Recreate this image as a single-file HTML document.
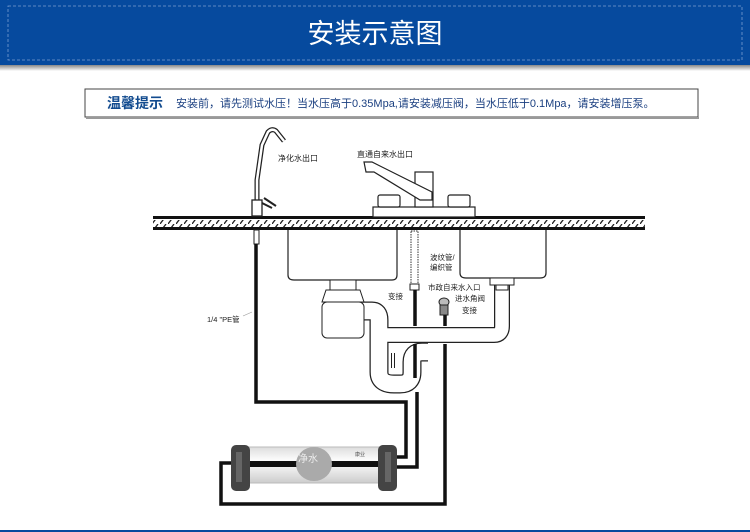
<!DOCTYPE html>
<html><head><meta charset="utf-8"><style>
body{margin:0;background:#fff;width:750px;height:532px;overflow:hidden;font-family:"Liberation Sans","Noto Sans CJK SC",sans-serif;}
</style></head><body>
<svg width="750" height="532" viewBox="0 0 750 532" xmlns="http://www.w3.org/2000/svg" style="display:block">
<defs>
<linearGradient id="sh" x1="0" y1="0" x2="0" y2="1"><stop offset="0" stop-color="#888"/><stop offset="1" stop-color="#fff"/></linearGradient>
<linearGradient id="cyl" x1="0" y1="0" x2="0" y2="1"><stop offset="0" stop-color="#ddd"/><stop offset="0.4" stop-color="#fff"/><stop offset="1" stop-color="#ccc"/></linearGradient>
<pattern id="hatch" width="8" height="8" patternUnits="userSpaceOnUse"><path d="M0 8 L6 0" stroke="#222" stroke-width="1.3"/></pattern>
</defs>
<!-- header -->
<rect x="0" y="0" width="750" height="65" fill="#064a9e"/>
<rect x="0" y="65" width="750" height="6" fill="url(#sh)"/>
<rect x="8" y="6" width="734" height="54" fill="none" stroke="#7b9dd0" stroke-dasharray="3,2" stroke-width="0.8"/>
<text x="375" y="43" font-size="27" fill="#fff" text-anchor="middle">安装示意图</text>
<!-- notice -->
<rect x="85" y="89" width="613" height="28" fill="#fff" stroke="#444" stroke-width="1"/>
<line x1="86" y1="118" x2="699" y2="118" stroke="#999" stroke-width="2"/>
<text x="107" y="108" font-size="14" font-weight="bold" fill="#124b8f">温馨提示</text>
<text x="176" y="107" font-size="11" fill="#1a3f80">安装前，请先测试水压！当水压高于0.35Mpa,请安装减压阀，当水压低于0.1Mpa，请安装增压泵。</text>
<!-- countertop -->
<rect x="153" y="220" width="492" height="7" fill="url(#hatch)"/>
<rect x="153" y="216" width="492" height="3" fill="#111"/>
<rect x="153" y="227" width="492" height="3" fill="#111"/>
<!-- purified faucet -->
<path d="M257 210 L257 180 L262 145 L268 132 Q272 128 276 131 L284 141" fill="none" stroke="#222" stroke-width="5"/>
<path d="M257 210 L257 180 L262 145 L268 132 Q272 128 276 131 L284 141" fill="none" stroke="#fff" stroke-width="2.5"/>
<rect x="252" y="200" width="10" height="16" fill="#fff" stroke="#222" stroke-width="1.3"/>
<path d="M262 203 L272 208 M264 198 L276 206" stroke="#222" stroke-width="2"/>
<text x="278" y="161" font-size="8" fill="#222">净化水出口</text>
<!-- PE tube -->
<rect x="254" y="230" width="5" height="14" fill="#fff" stroke="#222"/>
<text x="207" y="322" font-size="7.5" fill="#222">1/4 "PE管</text>
<line x1="243" y1="316" x2="252" y2="312" stroke="#999" stroke-width="0.6"/>
<!-- main faucet -->
<rect x="373" y="207" width="102" height="10" fill="#fff" stroke="#222" stroke-width="1.2"/>
<rect x="378" y="195" width="22" height="12" rx="2" fill="#fff" stroke="#222" stroke-width="1.2"/>
<rect x="448" y="195" width="22" height="12" rx="2" fill="#fff" stroke="#222" stroke-width="1.2"/>
<rect x="415" y="172" width="18" height="35" fill="#fff" stroke="#222" stroke-width="1.2"/>
<path d="M364 162 L372 162 L432 192 L432 200 L420 200 L374 172 L366 172 Z" fill="#fff" stroke="#222" stroke-width="1.2"/>
<text x="357" y="157" font-size="8" fill="#222">直通自来水出口</text>
<!-- sinks -->
<path d="M288 230 L288 275 Q288 280 294 280 L392 280 Q397 280 397 275 L397 230" fill="#fff" stroke="#222" stroke-width="1.2"/>
<path d="M460 230 L460 273 Q460 278 466 278 L540 278 Q546 278 546 273 L546 230" fill="#fff" stroke="#222" stroke-width="1.2"/>
<!-- drain pipes (outlined) -->
<g fill="none" stroke-linejoin="round" stroke-linecap="butt">
<path d="M355 311 L372 311 Q379 311 379 320 L379 372 Q379 384 394 384 L400 384 Q412 384 412 372 L412 362 Q412 352 422 352 L428 352" stroke="#222" stroke-width="19"/>
<path d="M355 311 L372 311 Q379 311 379 320 L379 372 Q379 384 394 384 L400 384 Q412 384 412 372 L412 362 Q412 352 422 352 L428 352" stroke="#fff" stroke-width="16.5"/>
<path d="M388 335 L494 335 Q502 335 502 326 L502 284" stroke="#222" stroke-width="16"/>
<path d="M386 335 L494 335 Q502 335 502 326 L502 284" stroke="#fff" stroke-width="13.5"/>
<path d="M393 353 L393 368" stroke="#222" stroke-width="4"/>
<path d="M393 353 L393 368" stroke="#fff" stroke-width="2"/>
</g>
<rect x="490" y="278" width="24" height="7" fill="#fff" stroke="#222"/>
<rect x="496" y="285" width="12" height="5" fill="#fff" stroke="#222"/>
<!-- left drain basket -->
<rect x="330" y="280" width="26" height="10" fill="#fff" stroke="#222"/>
<path d="M326 290 L360 290 L364 302 L322 302 Z" fill="#fff" stroke="#222"/>
<rect x="322" y="302" width="42" height="36" rx="5" fill="#fff" stroke="#222"/>
<!-- flexible hose -->
<rect x="411" y="231" width="7" height="54" fill="#fff" stroke="#333" stroke-dasharray="1.5,1"/>
<rect x="410" y="284" width="9" height="6" fill="#fff" stroke="#222"/>
<text x="430" y="260" font-size="7.5" fill="#222">波纹管/</text>
<text x="430" y="270" font-size="7.5" fill="#222">编织管</text>
<text x="428" y="290" font-size="7.5" fill="#222">市政自来水入口</text>
<text x="388" y="299" font-size="7.5" fill="#222">变接</text>
<text x="455" y="301" font-size="7.5" fill="#222">进水角阀</text>
<text x="462" y="313" font-size="7.5" fill="#222">变接</text>
<!-- angle valve -->
<ellipse cx="444" cy="302" rx="5" ry="4" fill="#bbb" stroke="#222"/>
<rect x="440" y="305" width="8" height="10" fill="#888" stroke="#222"/>
<!-- black pipes -->
<g fill="none" stroke="#111" stroke-width="3.5">
<path d="M256 244 L256 402 L406 402 L406 457 L395 457"/>
<path d="M415 290 L415 326"/>
<path d="M415 344 L415 378"/>
<path d="M417 392 L417 467 L395 467"/>
<path d="M445 315 L445 326"/>
<path d="M445 344 L445 504 L221 504 L221 463 L232 463"/>
</g>
<!-- filter -->
<rect x="244" y="447" width="140" height="36" rx="4" fill="url(#cyl)" stroke="#bbb"/>
<rect x="236" y="461" width="155" height="6" fill="#111"/>
<rect x="231" y="445" width="19" height="46" rx="5" fill="#444"/>
<rect x="378" y="445" width="19" height="46" rx="5" fill="#444"/>
<rect x="236" y="452" width="6" height="30" fill="#666"/>
<rect x="385" y="452" width="6" height="30" fill="#666"/>
<ellipse cx="314" cy="464" rx="18" ry="17" fill="#aaa"/>
<text x="298" y="462" font-size="10" fill="#eee">净水</text>
<text x="355" y="456" font-size="5" fill="#555">康业</text>
<!-- bottom bar -->
<rect x="0" y="530" width="750" height="2" fill="#064a9e"/>
</svg>
</body></html>
